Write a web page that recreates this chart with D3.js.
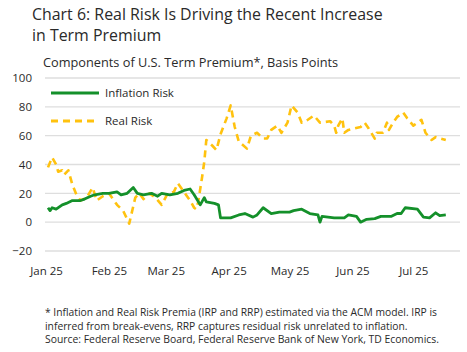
<!DOCTYPE html>
<html>
<head>
<meta charset="utf-8">
<script src="https://cdn.jsdelivr.net/npm/d3@7"></script>
<style>
  body { margin: 0; background: #fff; }
  svg { display: block; font-family: "Open Sans", "Noto Sans", sans-serif; }
</style>
</head>
<body>
<div class="term-premium"></div>
<script>
// values (basis points)
var inflationRisk = [
  ["2025-01-02", 10], ["2025-01-03", 8], ["2025-01-04", 10], ["2025-01-06", 9],
  ["2025-01-09", 12], ["2025-01-11", 13], ["2025-01-14", 15], ["2025-01-18", 15],
  ["2025-01-20", 16], ["2025-01-23", 18], ["2025-01-25", 19], ["2025-01-29", 20],
  ["2025-02-01", 20], ["2025-02-05", 21], ["2025-02-07", 19], ["2025-02-10", 20],
  ["2025-02-13", 24], ["2025-02-15", 20], ["2025-02-18", 19], ["2025-02-22", 20],
  ["2025-02-25", 18], ["2025-02-27", 20], ["2025-03-03", 19], ["2025-03-07", 20],
  ["2025-03-10", 22], ["2025-03-13", 23], ["2025-03-15", 19], ["2025-03-18", 12],
  ["2025-03-20", 17], ["2025-03-21", 14], ["2025-03-25", 13], ["2025-03-27", 12],
  ["2025-03-28", 3], ["2025-04-02", 3], ["2025-04-06", 5], ["2025-04-09", 6],
  ["2025-04-13", 3.5], ["2025-04-15", 5], ["2025-04-18", 10], ["2025-04-22", 6],
  ["2025-04-26", 7], ["2025-05-01", 7], ["2025-05-03", 8], ["2025-05-07", 9],
  ["2025-05-11", 6], ["2025-05-15", 5], ["2025-05-16", 0], ["2025-05-17", 4],
  ["2025-05-23", 3], ["2025-05-28", 3], ["2025-05-30", 5], ["2025-06-03", 4],
  ["2025-06-05", 0], ["2025-06-08", 2], ["2025-06-12", 2.5], ["2025-06-15", 4],
  ["2025-06-20", 4], ["2025-06-23", 6], ["2025-06-25", 6], ["2025-06-27", 10],
  ["2025-07-03", 9], ["2025-07-06", 3.5], ["2025-07-09", 3], ["2025-07-12", 6.5],
  ["2025-07-14", 4.5], ["2025-07-17", 5]
];

var realRisk = [
  ["2025-01-02", 38], ["2025-01-04", 45], ["2025-01-06", 40], ["2025-01-07", 35],
  ["2025-01-09", 36], ["2025-01-10", 33], ["2025-01-12", 36], ["2025-01-14", 26],
  ["2025-01-16", 19], ["2025-01-18", 15], ["2025-01-21", 17], ["2025-01-24", 24],
  ["2025-01-26", 15], ["2025-01-29", 18], ["2025-02-01", 20], ["2025-02-03", 16],
  ["2025-02-05", 12], ["2025-02-08", 8], ["2025-02-11", -1], ["2025-02-14", 17],
  ["2025-02-16", 20], ["2025-02-18", 16], ["2025-02-21", 20], ["2025-02-24", 17],
  ["2025-02-27", 12], ["2025-03-02", 20], ["2025-03-05", 21], ["2025-03-07", 27],
  ["2025-03-10", 21], ["2025-03-13", 15], ["2025-03-15", 10], ["2025-03-16", 9],
  ["2025-03-17", 14], ["2025-03-19", 32], ["2025-03-20", 42], ["2025-03-21", 57],
  ["2025-03-24", 53], ["2025-03-26", 50], ["2025-03-28", 61], ["2025-03-31", 72],
  ["2025-04-02", 81], ["2025-04-04", 66], ["2025-04-06", 56], ["2025-04-10", 51],
  ["2025-04-12", 60], ["2025-04-15", 62], ["2025-04-18", 58], ["2025-04-20", 58],
  ["2025-04-22", 64], ["2025-04-25", 67], ["2025-04-27", 62], ["2025-04-30", 69],
  ["2025-05-02", 81], ["2025-05-05", 76], ["2025-05-07", 69], ["2025-05-10", 71],
  ["2025-05-13", 74], ["2025-05-16", 69], ["2025-05-21", 70], ["2025-05-23", 67],
  ["2025-05-24", 62], ["2025-05-25", 67], ["2025-05-27", 72], ["2025-05-28", 62],
  ["2025-05-30", 64], ["2025-06-05", 66], ["2025-06-07", 69], ["2025-06-09", 65],
  ["2025-06-12", 58], ["2025-06-13", 62], ["2025-06-16", 62], ["2025-06-18", 69],
  ["2025-06-19", 64], ["2025-06-21", 69], ["2025-06-23", 73], ["2025-06-26", 76],
  ["2025-06-28", 72], ["2025-07-01", 67], ["2025-07-03", 69], ["2025-07-05", 71],
  ["2025-07-07", 62], ["2025-07-10", 57], ["2025-07-12", 59], ["2025-07-17", 57]
];

var yTicks = [-20, 0, 20, 40, 60, 80, 100];
var monthTicks = ["2025-01-01", "2025-02-01", "2025-03-01", "2025-04-01",
                  "2025-05-01", "2025-06-01", "2025-07-01"];

var titleLines = ["Chart 6: Real Risk Is Driving the Recent Increase", "in Term Premium"];
var subtitle = "Components of U.S. Term Premium*, Basis Points";
var footnotes = [
  "* Inflation and Real Risk Premia (IRP and RRP) estimated via the ACM model. IRP is",
  "inferred from break-evens, RRP captures residual risk unrelated to inflation.",
  "Source: Federal Reserve Board, Federal Reserve Bank of New York, TD Economics."
];

var parseDate = d3.timeParse("%Y-%m-%d");
var width = 467, height = 352;

var svg = d3.select(".term-premium").append("svg")
    .attr("width", width)
    .attr("height", height);

var x = d3.scaleTime()
    .domain([parseDate("2025-01-01"), parseDate("2025-07-24")])
    .range([46, 460]);

var y = d3.scaleLinear()
    .domain([-20, 100])
    .range([251, 78]);

// scale a text's font size so it spans the width seen in the reference
function fitWidth(sel, target) {
  var fs = +sel.attr("font-size");
  var w = sel.node().getComputedTextLength();
  sel.attr("font-size", (fs * target / w).toFixed(2));
}

// title
var title = svg.append("g").selectAll("text")
    .data(titleLines)
    .enter().append("text")
    .attr("x", 32)
    .attr("y", function(d, i) { return 20 + i * 21; })
    .attr("font-size", 15)
    .attr("fill", "#2a2a2a")
    .text(function(d) { return d; });
fitWidth(d3.select(title.nodes()[0]), 351);
d3.select(title.nodes()[1]).attr("font-size", d3.select(title.nodes()[0]).attr("font-size"));

var sub = svg.append("text")
    .attr("x", 43)
    .attr("y", 67)
    .attr("font-size", 11)
    .attr("fill", "#2a2a2a")
    .text(subtitle);
fitWidth(sub, 295);

// gridlines
svg.append("g").selectAll("line")
    .data(yTicks)
    .enter().append("line")
    .attr("x1", 45).attr("x2", 460)
    .attr("y1", function(d) { return y(d); })
    .attr("y2", function(d) { return y(d); })
    .attr("stroke", "#dedede")
    .attr("stroke-width", 1.3);

// y axis labels
var yAxis = svg.append("g")
    .attr("transform", "translate(38,0)")
    .call(d3.axisLeft(y).tickValues(yTicks).tickSize(0).tickPadding(6));
yAxis.select(".domain").remove();
yAxis.selectAll("text")
    .attr("font-size", 11.5)
    .attr("font-family", "'Open Sans', 'Noto Sans', sans-serif")
    .attr("fill", "#2a2a2a");

// x axis labels
var xAxis = svg.append("g")
    .attr("transform", "translate(0,262)")
    .call(d3.axisBottom(x)
      .tickValues(monthTicks.map(parseDate))
      .tickFormat(d3.timeFormat("%b %y"))
      .tickSize(0).tickPadding(5));
xAxis.select(".domain").remove();
xAxis.selectAll("text")
    .attr("font-size", 11.5)
    .attr("font-family", "'Open Sans', 'Noto Sans', sans-serif")
    .attr("fill", "#2a2a2a");

var line = d3.line()
    .x(function(d) { return x(parseDate(d[0])); })
    .y(function(d) { return y(d[1]); });

svg.append("path")
    .datum(realRisk)
    .attr("fill", "none")
    .attr("stroke", "#ffc20e")
    .attr("stroke-width", 2.6)
    .attr("stroke-dasharray", "7,5")
    .attr("stroke-linejoin", "round")
    .attr("d", line);

svg.append("path")
    .datum(inflationRisk)
    .attr("fill", "none")
    .attr("stroke", "#14902a")
    .attr("stroke-width", 2.8)
    .attr("stroke-linejoin", "round")
    .attr("d", line);

// legend
var legendItems = [
  {name: "Inflation Risk", color: "#14902a", dash: null},
  {name: "Real Risk", color: "#ffc20e", dash: "7,5"}
];
var legend = svg.append("g").selectAll("g")
    .data(legendItems)
    .enter().append("g")
    .attr("transform", function(d, i) { return "translate(51," + (93 + i * 28) + ")"; });
legend.append("line")
    .attr("x1", 0).attr("x2", 48)
    .attr("stroke", function(d) { return d.color; })
    .attr("stroke-width", 2.8)
    .attr("stroke-dasharray", function(d) { return d.dash; });
legend.append("text")
    .attr("x", 54)
    .attr("dy", "0.35em")
    .attr("font-size", 11.5)
    .attr("fill", "#2a2a2a")
    .text(function(d) { return d.name; });

// footnotes, each line sized to the width it takes in the reference
var noteWidths = [392, 363, 394];
var notes = svg.append("g").selectAll("text")
    .data(footnotes)
    .enter().append("text")
    .attr("x", 45)
    .attr("y", function(d, i) { return 316 + i * 13.5; })
    .attr("font-size", 9.5)
    .attr("fill", "#2a2a2a")
    .text(function(d) { return d; });
notes.each(function(d, i) { fitWidth(d3.select(this), noteWidths[i]); });
</script>
</body>
</html>
